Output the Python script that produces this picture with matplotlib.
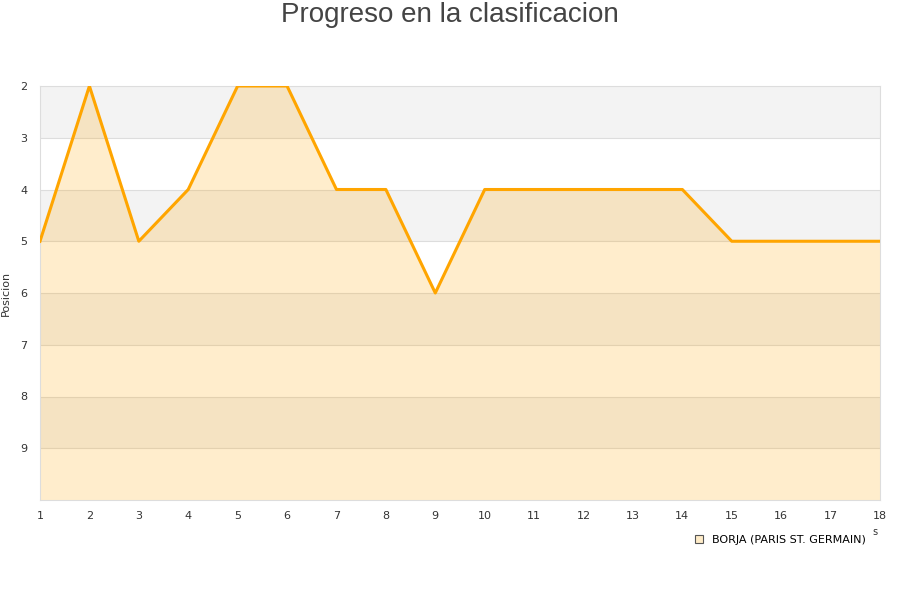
import numpy as np
import matplotlib.pyplot as plt
from matplotlib.patches import Patch

jornadas = list(range(1, 19))
posicion = [5, 2, 5, 4, 2, 2, 4, 4, 6, 4, 4, 4, 4, 4, 5, 5, 5, 5]
jugador = "BORJA (PARIS ST. GERMAIN)"

fig = plt.figure(figsize=(9, 6), dpi=100)
ax = fig.add_axes([40/900, 1 - 500/600, 840/900, 414/600])

# alternating bands
for k in range(2, 10):
    color = '#f3f3f3' if k % 2 == 0 else 'white'
    ax.axhspan(k, k + 1, color=color, zorder=0, lw=0)
for k in range(3, 10):
    ax.axhline(k, color='#dddddd', lw=0.8, zorder=1)

ax.fill_between(jornadas, posicion, 10, color='#ffa500', alpha=0.2, lw=0, zorder=2)
ax.plot(jornadas, posicion, color='#ffa500', lw=2.2, zorder=3)

ax.set_xlim(1, 18)
ax.set_ylim(10, 2)
ax.set_xticks(jornadas)
ax.set_yticks(range(2, 10))
ax.tick_params(length=0, labelsize=8, colors='#333333', pad=8)
ax.tick_params(axis='y', pad=9)
for s in ax.spines.values():
    s.set_color('#dddddd')
ax.set_ylabel('Posicion', fontsize=8, color='#333333')
ax.yaxis.set_label_coords(-29/840, 0.5)

fig.text(0.5, 1 - 15/600, 'Progreso en la clasificacion', fontsize=20, color='#444444',
         ha='center', va='center', family='Liberation Sans')
fig.text(875/900, 1 - 532/600, 's', fontsize=7, color='#333333', ha='center', va='center')

leg = ax.legend(handles=[Patch(facecolor='#ffecc8', edgecolor='#555555', lw=0.8, label=jugador)],
                loc='upper right', bbox_to_anchor=(0.995, -0.06), frameon=False,
                fontsize=8, handlelength=0.7, handleheight=0.7)

fig.savefig('out.png', dpi=100)
